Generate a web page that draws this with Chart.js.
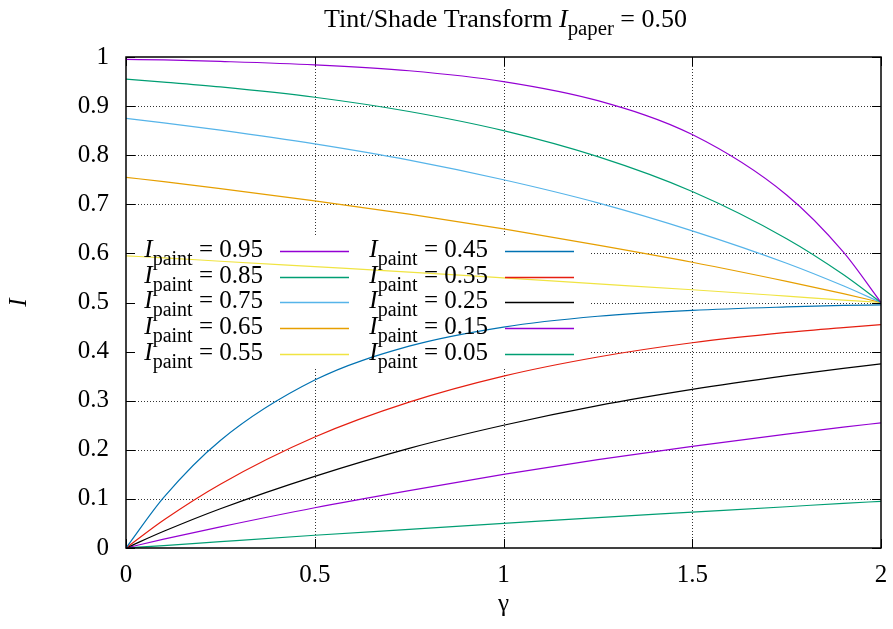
<!DOCTYPE html>
<html lang="en">

<head>
  <meta charset="UTF-8" />
  <title>Tint/Shade Transform</title>
  <script src="https://cdn.jsdelivr.net/npm/chart.js"></script>
  <style>
    body { margin: 0; background: #fff; }
    canvas { display: block; }
  </style>
</head>

<body>
  <canvas id="tintChart" width="893" height="629"></canvas>

  <script>
    // gamma sample points (x axis)
    var gammaValues = [0, 0.1, 0.25, 0.5, 0.75, 1, 1.25, 1.5, 1.75, 1.9, 2]

    // I for each paint level
    var paint095 = [0.995, 0.994, 0.991, 0.984, 0.972, 0.950, 0.911, 0.842, 0.719, 0.603, 0.500]
    var paint085 = [0.955, 0.949, 0.939, 0.918, 0.889, 0.850, 0.797, 0.726, 0.630, 0.557, 0.500]
    var paint075 = [0.875, 0.866, 0.851, 0.823, 0.790, 0.750, 0.703, 0.646, 0.580, 0.534, 0.500]
    var paint065 = [0.755, 0.746, 0.732, 0.707, 0.680, 0.650, 0.617, 0.582, 0.543, 0.518, 0.500]
    var paint055 = [0.595, 0.591, 0.584, 0.573, 0.562, 0.550, 0.538, 0.526, 0.513, 0.505, 0.500]
    var paint045 = [0, 0.103, 0.219, 0.342, 0.411, 0.450, 0.472, 0.484, 0.491, 0.494, 0.495]
    var paint035 = [0, 0.057, 0.130, 0.226, 0.297, 0.350, 0.389, 0.418, 0.439, 0.449, 0.455]
    var paint025 = [0, 0.034, 0.080, 0.146, 0.203, 0.250, 0.290, 0.323, 0.351, 0.366, 0.375]
    var paint015 = [0, 0.018, 0.043, 0.082, 0.117, 0.150, 0.180, 0.207, 0.232, 0.246, 0.255]
    var paint005 = [0, 0.005, 0.013, 0.026, 0.038, 0.050, 0.062, 0.073, 0.084, 0.091, 0.095]

    var paintLabels = ['0.95', '0.85', '0.75', '0.65', '0.55', '0.45', '0.35', '0.25', '0.15', '0.05']
    var paintSeries = [paint095, paint085, paint075, paint065, paint055, paint045, paint035, paint025, paint015, paint005]
    var seriesColors = ['#9400D3', '#009E73', '#56B4E9', '#E69F00', '#F0E442', '#0072B2', '#E51E10', '#000000', '#9400D3', '#009E73']

    var paperLevel = '0.50'

    var SERIF = "'Liberation Serif', 'DejaVu Serif', serif"

    // key layout (gnuplot style, two columns)
    var keyRowTop = 251
    var keyRowStep = 25.7
    var keyColumns = [{ textRight: 263, lineFrom: 280, lineTo: 349 }, { textRight: 488, lineFrom: 505, lineTo: 574 }]
    var keyBoxRight = 590

    // italic symbol + subscript + upright rest, like gnuplot enhanced text
    function measureSubText(ctx, size, main, sub, rest) {
      ctx.font = 'italic ' + size + 'px ' + SERIF
      var wMain = ctx.measureText(main).width
      ctx.font = (size * 0.8) + 'px ' + SERIF
      var wSub = ctx.measureText(sub).width
      ctx.font = size + 'px ' + SERIF
      var wRest = ctx.measureText(rest).width
      return { main: wMain, sub: wSub, rest: wRest, total: wMain + wSub + wRest }
    }

    function drawSubText(ctx, start, baseline, size, main, sub, rest) {
      var w = measureSubText(ctx, size, main, sub, rest)
      ctx.textAlign = 'left'
      ctx.textBaseline = 'alphabetic'
      ctx.font = 'italic ' + size + 'px ' + SERIF
      ctx.fillText(main, start, baseline)
      ctx.font = (size * 0.8) + 'px ' + SERIF
      ctx.fillText(sub, start + w.main, baseline + size * 0.3)
      ctx.font = size + 'px ' + SERIF
      ctx.fillText(rest, start + w.main + w.sub, baseline)
    }

    var gnuplotFrame = {
      id: 'gnuplotFrame',
      beforeDatasetsDraw(chart) {
        var ctx = chart.ctx
        var a = chart.chartArea
        var xs = chart.scales.x
        var ys = chart.scales.y
        ctx.save()

        // dotted grid
        ctx.strokeStyle = '#333'
        ctx.lineWidth = 1
        ctx.setLineDash([1, 2])
        xs.ticks.forEach(function (t) {
          var px = Math.round(xs.getPixelForValue(t.value)) + 0.5
          if (px < a.left + 2 || px > a.right - 2) return
          ctx.beginPath()
          ctx.moveTo(px, a.top)
          ctx.lineTo(px, a.bottom)
          ctx.stroke()
        })
        ys.ticks.forEach(function (t) {
          var py = Math.round(ys.getPixelForValue(t.value)) + 0.5
          if (py < a.top + 2 || py > a.bottom - 2) return
          ctx.beginPath()
          ctx.moveTo(a.left, py)
          ctx.lineTo(a.right, py)
          ctx.stroke()
        })
        ctx.setLineDash([])

        // opaque key area hides the grid
        ctx.fillStyle = '#fff'
        var boxTop = keyRowTop - 14
        var boxBottom = keyRowTop + keyRowStep * 4 + 14
        ctx.fillRect(a.left + 1, boxTop, keyBoxRight - a.left - 1, boxBottom - boxTop)

        // inward tick marks on all four sides
        ctx.strokeStyle = '#000'
        ctx.lineWidth = 1
        var tl = 9
        xs.ticks.forEach(function (t) {
          var px = Math.round(xs.getPixelForValue(t.value)) + 0.5
          ctx.beginPath()
          ctx.moveTo(px, a.bottom)
          ctx.lineTo(px, a.bottom - tl)
          ctx.moveTo(px, a.top)
          ctx.lineTo(px, a.top + tl)
          ctx.stroke()
        })
        ys.ticks.forEach(function (t) {
          var py = Math.round(ys.getPixelForValue(t.value)) + 0.5
          ctx.beginPath()
          ctx.moveTo(a.left, py)
          ctx.lineTo(a.left + tl, py)
          ctx.moveTo(a.right, py)
          ctx.lineTo(a.right - tl, py)
          ctx.stroke()
        })
        ctx.restore()
      },
      afterDatasetsDraw(chart) {
        var ctx = chart.ctx
        var a = chart.chartArea
        ctx.save()

        // border
        ctx.strokeStyle = '#000'
        ctx.lineWidth = 1.5
        ctx.strokeRect(a.left, a.top, a.right - a.left, a.bottom - a.top)

        // key
        chart.data.datasets.forEach(function (ds, i) {
          var col = keyColumns[Math.floor(i / 5)]
          var rowY = Math.round(keyRowTop + keyRowStep * (i % 5))
          var rest = ' = ' + paintLabels[i]
          var w = measureSubText(ctx, 25, 'I', 'paint', rest)
          ctx.fillStyle = '#000'
          drawSubText(ctx, col.textRight - w.total, rowY + 6, 25, 'I', 'paint', rest)
          ctx.strokeStyle = ds.borderColor
          ctx.lineWidth = 1.4
          ctx.beginPath()
          ctx.moveTo(col.lineFrom, rowY + 0.5)
          ctx.lineTo(col.lineTo, rowY + 0.5)
          ctx.stroke()
        })

        // title
        var pre = 'Tint/Shade Transform '
        ctx.font = '26px ' + SERIF
        var wPre = ctx.measureText(pre).width
        var rest = ' = ' + paperLevel
        var w = measureSubText(ctx, 26, 'I', 'paper', rest)
        var start = (a.left + a.right) / 2 + 2 - (wPre + w.total) / 2
        ctx.fillStyle = '#000'
        ctx.font = '26px ' + SERIF
        ctx.textAlign = 'left'
        ctx.textBaseline = 'alphabetic'
        ctx.fillText(pre, start, 27)
        drawSubText(ctx, start + wPre, 27, 26, 'I', 'paper', rest)
        ctx.restore()
      }
    }

    var datasets = paintSeries.map(function (serie, i) {
      return {
        label: 'I_paint = ' + paintLabels[i],
        data: serie.map(function (v, j) { return { x: gammaValues[j], y: v } }),
        borderColor: seriesColors[i],
        backgroundColor: seriesColors[i],
        borderWidth: 1.2,
        pointRadius: 0,
        fill: false,
        cubicInterpolationMode: 'monotone'
      }
    })

    function tickText(value) {
      return String(+value.toFixed(2))
    }

    new Chart(document.getElementById('tintChart'), {
      type: 'line',
      data: { datasets: datasets },
      plugins: [gnuplotFrame],
      options: {
        responsive: false,
        animation: false,
        layout: { padding: { top: 57, right: 12, left: 0, bottom: 0 } },
        plugins: {
          legend: { display: false },
          tooltip: { enabled: false },
          title: { display: false }
        },
        scales: {
          x: {
            type: 'linear',
            min: 0,
            max: 2,
            grid: { display: false, drawTicks: false },
            border: { display: false },
            ticks: { stepSize: 0.5, padding: 12, color: '#000', maxRotation: 0, font: { family: SERIF, size: 25 }, callback: tickText },
            title: { display: true, text: 'γ', color: '#000', padding: { top: 0, bottom: 10 }, font: { family: SERIF, size: 25 } },
            afterFit(scale) {
              scale.height = 81
              scale.paddingLeft = 0
              scale.paddingRight = 0
            }
          },
          y: {
            min: 0,
            max: 1,
            grid: { display: false, drawTicks: false },
            border: { display: false },
            ticks: { stepSize: 0.1, padding: 17, color: '#000', font: { family: SERIF, size: 25 }, callback: tickText },
            title: { display: true, text: 'I', color: '#000', padding: { top: 4, bottom: 0 }, font: { family: SERIF, size: 25, style: 'italic' } },
            afterFit(scale) {
              scale.width = 126
              scale.paddingTop = 0
              scale.paddingBottom = 0
            }
          }
        }
      }
    })
  </script>
</body>

</html>
